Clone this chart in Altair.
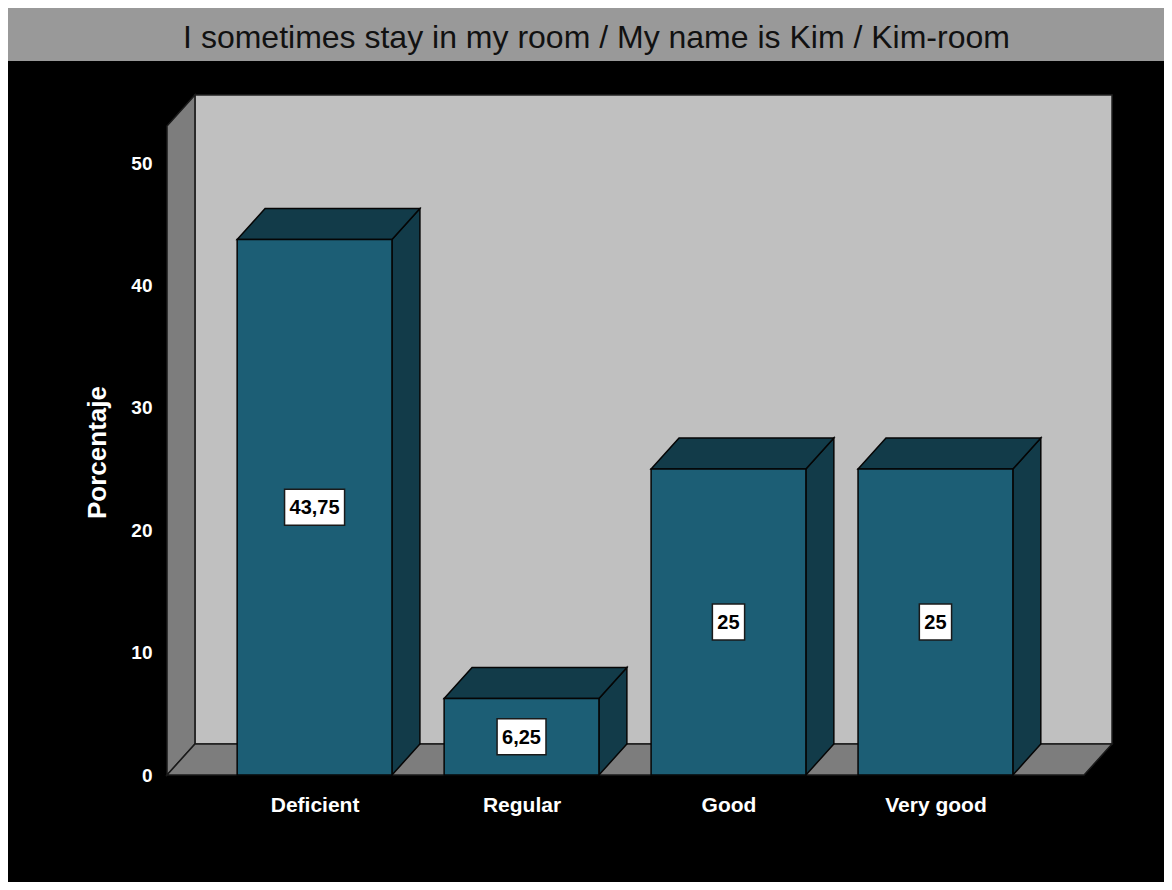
import altair as alt
import pandas as pd

# ---------------- data ----------------
categories = ["Deficient", "Regular", "Good", "Very good"]
values = [43.75, 6.25, 25, 25]
value_labels = ["43,75", "6,25", "25", "25"]
y_ticks = [0, 10, 20, 30, 40, 50]
title_text = "I sometimes stay in my room / My name is Kim / Kim-room"
y_title = "Porcentaje"

# ---------------- geometry / style ----------------
X_MIN, X_MAX = -0.713, 3.853      # x scale domain (category index units)
Y_MAX = 55.56                     # y scale domain top (back wall top)
DX, DY = 0.135, 2.53              # 3-D depth offset in scale units
HALF = 0.374                      # half bar width
PX_X, PX_Y = 207.0, 12.24         # pixels per scale unit
W, H = 945, 680
PAD = {"left": 159, "top": 87, "right": 52, "bottom": 107}

FONT = "Liberation Sans"
FRONT = "#1c5e75"
DARK = "#123b49"
WALL = "#c0c0c0"
SIDE_WALL = "#7d7d7d"

idx = list(range(len(categories)))
XL, XR = X_MIN, X_MAX - DX
Y_FRONT_TOP = Y_MAX - DY

xs = alt.Scale(domain=[X_MIN, X_MAX], nice=False, zero=False)
ys = alt.Scale(domain=[0, Y_MAX], nice=False, zero=False)

label_arr = "[" + ",".join("'" + c + "'" for c in categories) + "]"
x_axis = alt.Axis(values=idx, labelExpr=label_arr + "[round(datum.value)]",
                  domain=False, ticks=False, tickSize=0, grid=False,
                  labelColor="white", labelFont=FONT, labelFontWeight="bold",
                  labelFontSize=21, labelPadding=19, labelOverlap=False, title=None)
y_axis = alt.Axis(values=y_ticks, domain=False, ticks=False, tickSize=0, grid=False,
                  labelColor="white", labelFont=FONT, labelFontWeight="bold",
                  labelFontSize=19, labelPadding=15, labelOverlap=False,
                  title=y_title, titleColor="white", titleFont=FONT,
                  titleFontWeight="bold", titleFontSize=26, titleAngle=270,
                  titleX=-70, titleY=357, titleAlign="center", titleBaseline="middle")


def X(f):
    return alt.X(f + ":Q", scale=xs, axis=x_axis)


def Y(f):
    return alt.Y(f + ":Q", scale=ys, axis=y_axis, stack=None)


# ---------------- title bar ----------------
title_df = pd.DataFrame({"t": [title_text]})
title_bar = alt.Chart(title_df).mark_rect(fill="#999999").encode(
    x=alt.value(-PAD["left"] - 2), x2=alt.value(W + PAD["right"] + 2),
    y=alt.value(-PAD["top"] - 3), y2=alt.value(-34))
title_mark = alt.Chart(title_df).mark_text(
    font=FONT, fontSize=32, color="#111111", align="center", baseline="alphabetic"
).encode(x=alt.value(429.5), y=alt.value(-47), text="t:N")

# ---------------- walls ----------------
back_df = pd.DataFrame({"x0": [XL + DX], "x1": [XR + DX], "y0": [DY], "y1": [Y_MAX]})
back_wall = alt.Chart(back_df).mark_rect(fill=WALL, stroke="#222222", strokeWidth=1.5).encode(
    x=X("x0"), x2="x1:Q", y=Y("y0"), y2="y1:Q")

walls_rows = []
# left wall
walls_rows += [{"id": "left", "x": XL, "lo": 0, "hi": Y_FRONT_TOP},
               {"id": "left", "x": XL + DX, "lo": DY, "hi": Y_MAX}]
# floor
walls_rows += [{"id": "floor", "x": XL, "lo": 0, "hi": 0},
               {"id": "floor", "x": XL + DX, "lo": 0, "hi": DY},
               {"id": "floor", "x": XR, "lo": 0, "hi": DY},
               {"id": "floor", "x": XR + DX, "lo": DY, "hi": DY}]
walls_df = pd.DataFrame(walls_rows)
side_walls = alt.Chart(walls_df).mark_area(
    fill=SIDE_WALL, stroke="#1a1a1a", strokeWidth=1.5, interpolate="linear"
).encode(x=X("x"), y=Y("lo"), y2="hi:Q", detail="id:N")

# ---------------- bars ----------------
tops, sides = [], []
for i, v in zip(idx, values):
    x0, x1 = i - HALF, i + HALF
    tops += [{"id": i, "x": x0, "lo": v, "hi": v},
             {"id": i, "x": x0 + DX, "lo": v, "hi": v + DY},
             {"id": i, "x": x1, "lo": v, "hi": v + DY},
             {"id": i, "x": x1 + DX, "lo": v + DY, "hi": v + DY}]
    sides += [{"id": i, "x": x1, "lo": 0, "hi": v},
              {"id": i, "x": x1 + DX, "lo": DY, "hi": v + DY}]
tops_df = pd.DataFrame(tops)
sides_df = pd.DataFrame(sides)

bar_side = alt.Chart(sides_df).mark_area(
    fill=DARK, stroke="#050505", strokeWidth=1.5, interpolate="linear"
).encode(x=X("x"), y=Y("lo"), y2="hi:Q", detail="id:N")
bar_top = alt.Chart(tops_df).mark_area(
    fill=DARK, stroke="#050505", strokeWidth=1.5, interpolate="linear"
).encode(x=X("x"), y=Y("lo"), y2="hi:Q", detail="id:N")

front_df = pd.DataFrame({
    "cat": categories,
    "x0": [i - HALF for i in idx],
    "x1": [i + HALF for i in idx],
    "y0": [0.0] * len(idx),
    "v": values,
})
bar_front = alt.Chart(front_df).mark_rect(
    fill=FRONT, stroke="#050505", strokeWidth=1.5
).encode(x=X("x0"), x2="x1:Q", y=Y("y0"), y2="v:Q")

# ---------------- value labels ----------------
char_w = {",": 0.278, ".": 0.278}


def text_px(s, size=20):
    return sum(char_w.get(c, 0.556) for c in s) * size


lab_rows = []
for i, v, lab in zip(idx, values, value_labels):
    hw = (text_px(lab) / 2 + 5) / PX_X
    hh = 18 / PX_Y
    lab_rows.append({"cat": categories[i], "lab": lab, "xc": i, "yc": v / 2,
                     "bx0": i - hw, "bx1": i + hw, "by0": v / 2 - hh, "by1": v / 2 + hh})
lab_df = pd.DataFrame(lab_rows)
lab_box = alt.Chart(lab_df).mark_rect(fill="white", stroke="#1a1a1a", strokeWidth=1.5).encode(
    x=X("bx0"), x2="bx1:Q", y=Y("by0"), y2="by1:Q")
lab_text = alt.Chart(lab_df).mark_text(
    font=FONT, fontSize=20, fontWeight="bold", color="black", align="center", baseline="middle", dy=1
).encode(x=X("xc"), y=Y("yc"), text="lab:N")

chart = alt.layer(
    title_bar, title_mark, back_wall, side_walls, bar_side, bar_top, bar_front, lab_box, lab_text
).properties(
    width=W, height=H, background="black", padding=PAD,
    autosize=alt.AutoSizeParams(type="none"),
).configure_view(stroke=None)

chart.save("out.html", embed_options={"renderer": "svg", "actions": False})
